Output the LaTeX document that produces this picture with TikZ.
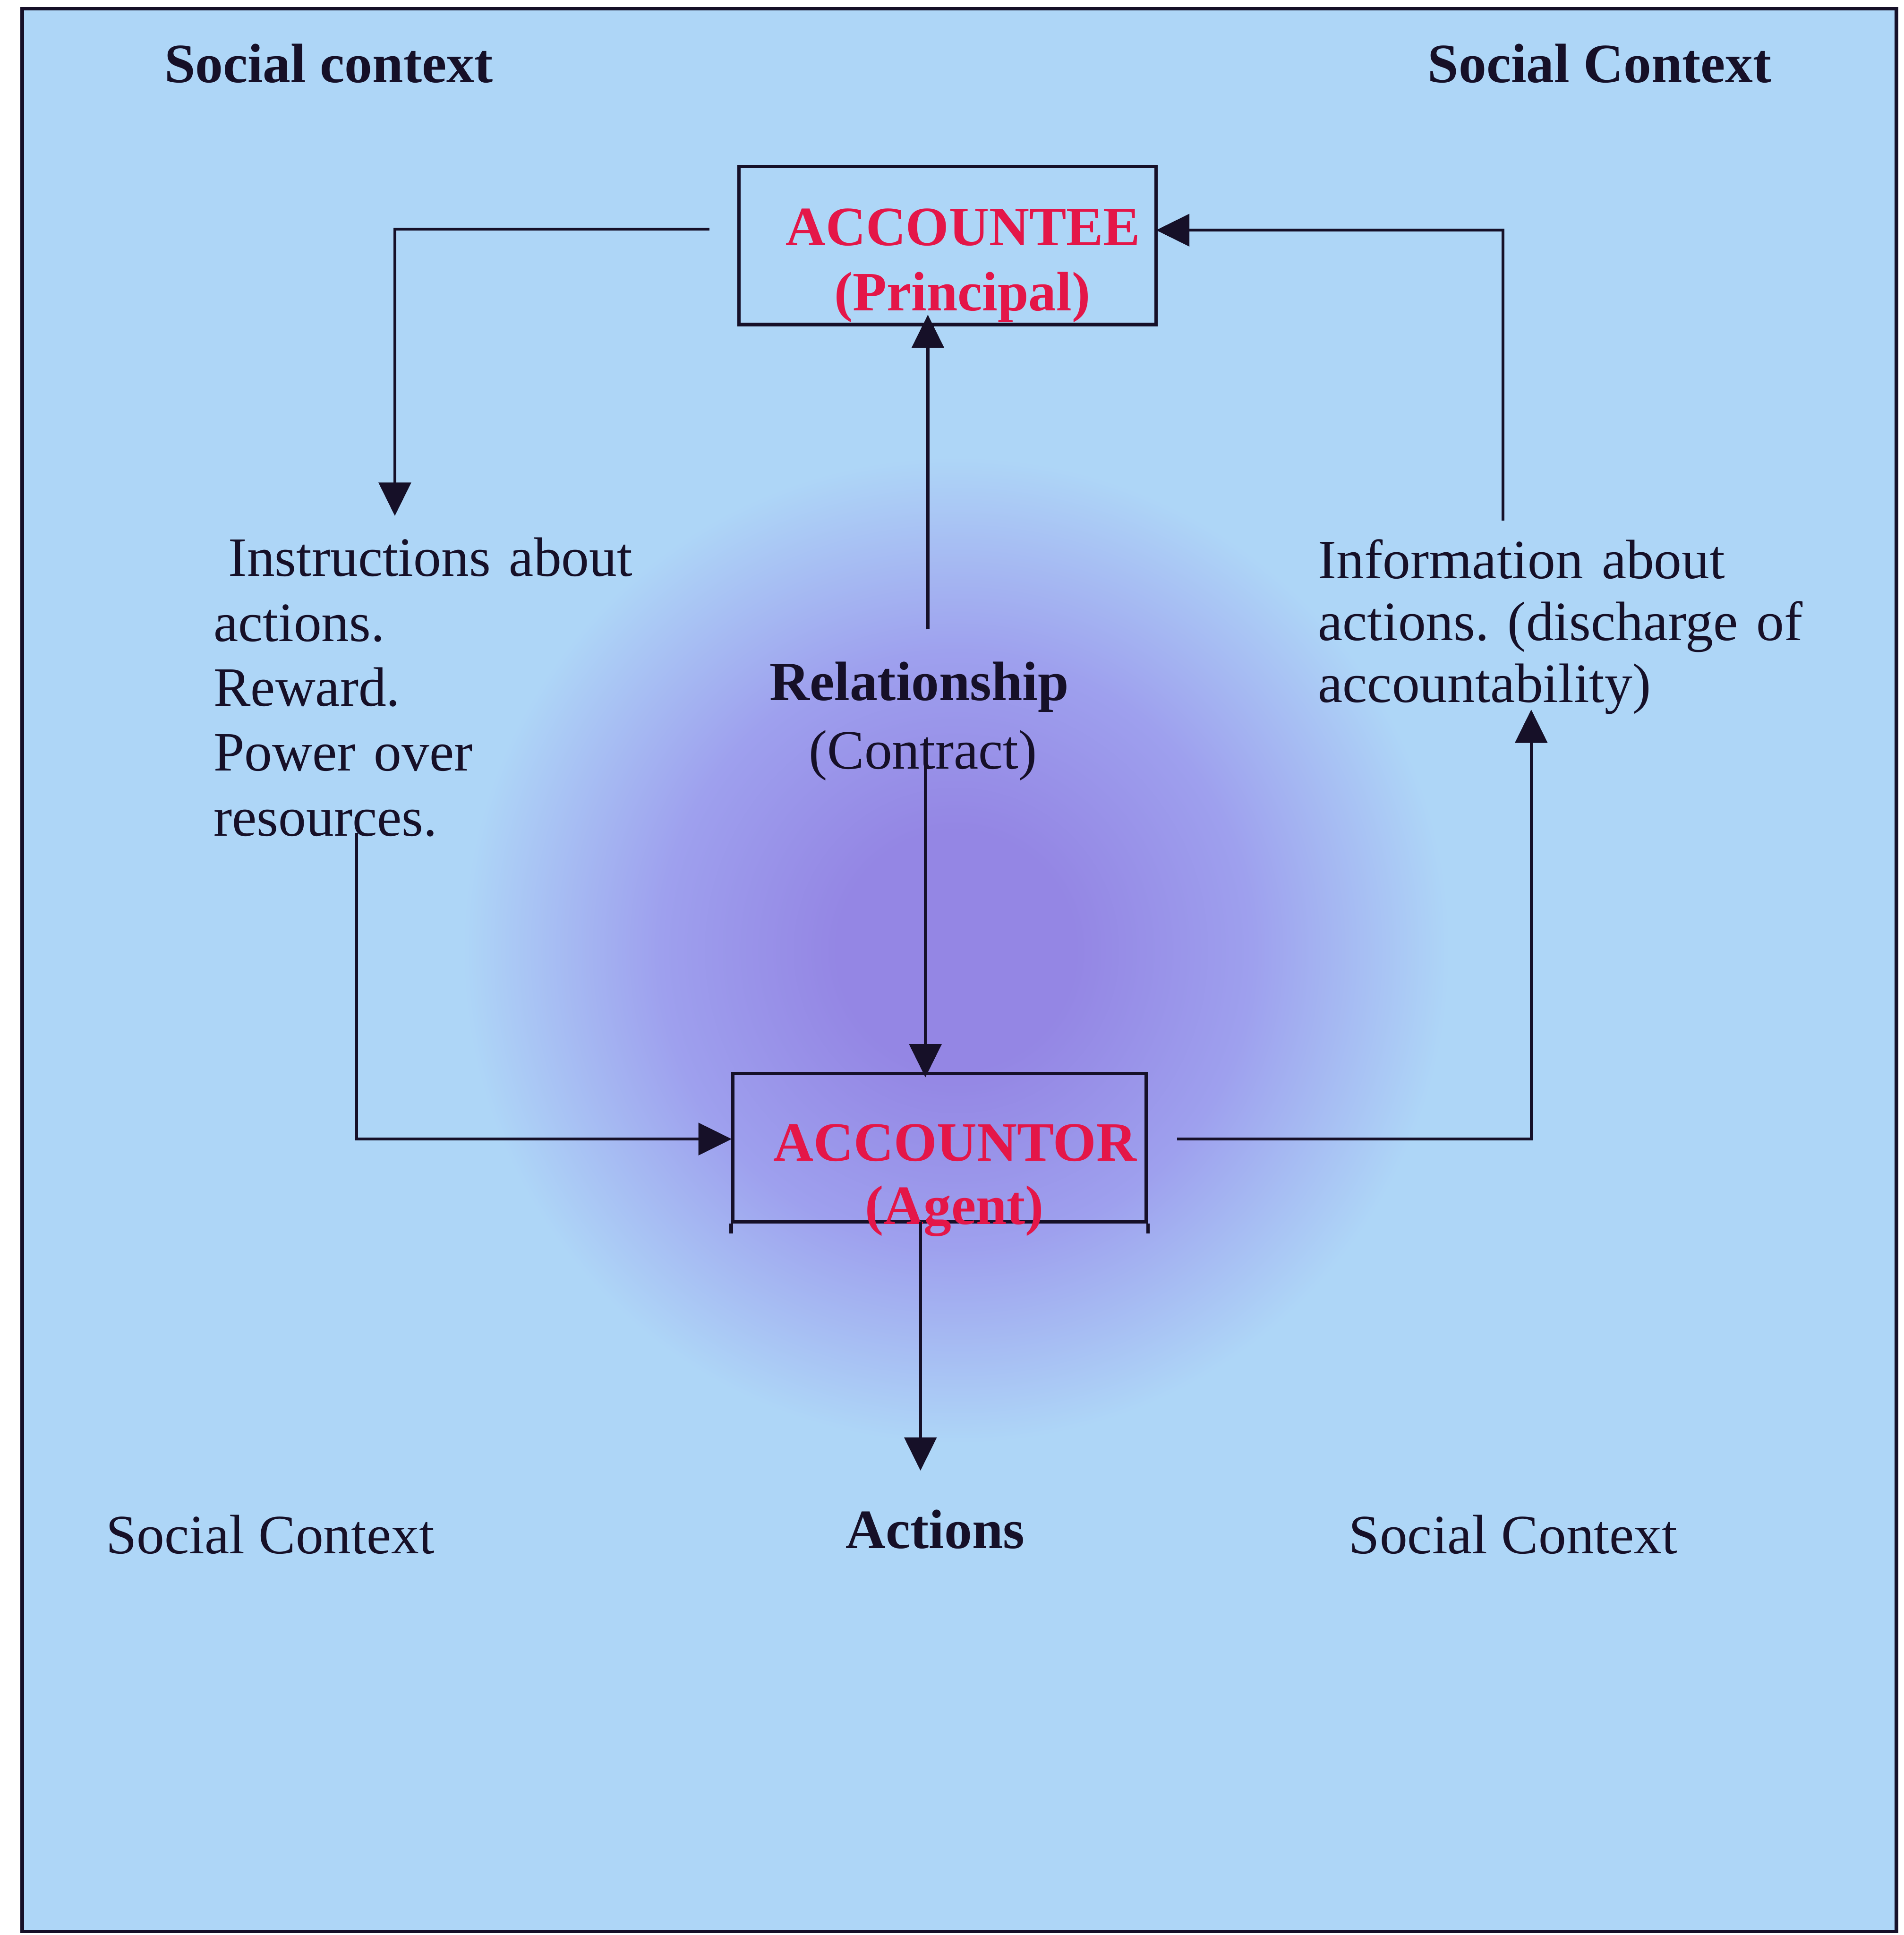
\documentclass[tikz,border=0pt]{standalone}
\usepackage{fontspec}
\setmainfont{Liberation Serif}
\usetikzlibrary{arrows.meta}

\definecolor{bluebg}{RGB}{174,214,247}
\definecolor{blobcore}{RGB}{148,134,228}
\definecolor{blobmid}{RGB}{158,160,238}
\definecolor{ink}{RGB}{22,16,40}
\definecolor{rolered}{RGB}{228,22,72}

% soft violet haze in the middle of the panel (fades out at the path's edge)
\pgfdeclareradialshading{haze}{\pgfpoint{0bp}{0bp}}{%
  color(0bp)=(blobcore); color(6bp)=(blobcore);
  color(15bp)=(blobmid); color(25bp)=(bluebg); color(50bp)=(bluebg)}

\begin{document}
\begin{tikzpicture}[x=0.1mm, y=-0.1mm, line width=0.7pt, ink,
  rolebox/.style={draw=ink, line width=0.8pt, inner sep=0pt, fill=none},
  plain/.style={font=\fontsize{12.8}{15}\selectfont, text=ink, inner sep=0pt},
  heading/.style={font=\fontsize{12.8}{15}\selectfont\bfseries, text=ink, inner sep=0pt},
  roletext/.style={font=\fontsize{12.8}{15}\selectfont\bfseries, text=rolered, inner sep=0pt},
  arr/.style={draw=ink, line width=0.7pt, -{Triangle[length=2.7mm,width=2.6mm]}}]

  % page and panel
  \fill[white] (0,0) rectangle (1543,1568);
  \useasboundingbox (0,0) rectangle (1543,1568);
  \fill[bluebg] (18,7) rectangle (1537,1565);
  \begin{scope}
    \clip (18,7) rectangle (1537,1565);
    \shade[shading=haze] (775,770) circle (40mm);
  \end{scope}
  \draw[line width=0.8pt] (18,7) rectangle (1537,1565);

  % the two parties
  \node[rolebox, minimum width=33.8mm, minimum height=12.8mm] (teebox) at (768,199) {};
  \node[rolebox, minimum width=33.5mm, minimum height=12.0mm] (torbox) at (761.5,930) {};
  \draw[line width=0.8pt] (torbox.south west) -- ++(0,8);
  \draw[line width=0.8pt] (torbox.south east) -- ++(0,8);

  \node[roletext, anchor=base] (teename) at (780.5,198.7) {ACCOUNTEE};
  \node[roletext, anchor=base] (teerole) at (780,251.7) {(Principal)};
  \node[roletext, anchor=base] (torname) at (774,940.6) {ACCOUNTOR};
  \node[roletext, anchor=base] (torrole) at (773.6,992) {(Agent)};

  % labels
  \node[heading, anchor=base west] (ctxTL) at (132,66.8) {Social context};
  \node[heading, anchor=base west] (ctxTR) at (1156,66.8) {Social Context};
  \node[plain, anchor=base west] (ctxBL) at (84.7,1259) {Social Context};
  \node[plain, anchor=base west] (ctxBR) at (1092,1259) {Social Context};
  \node[heading, anchor=base] (actions) at (758,1254.6) {Actions};
  \node[heading, anchor=base] (rel) at (745,567.5) {Relationship};
  \node[plain, anchor=base] (contract) at (748,623) {(Contract)};

  \node[plain, anchor=base west, text width=42mm, align=left,
        font=\fontsize{12.8}{14.96}\selectfont\frenchspacing] (instr) at (172,467)
    {\hspace*{1.2mm}Instructions about\\actions.\\Reward.\\Power over\\resources.};
  \node[plain, anchor=base west, text width=46mm, align=left,
        font=\fontsize{12.8}{14.3}\selectfont\frenchspacing] (info) at (1067,468.7)
    {Information about\\actions. (discharge of\\accountability)};

  % connector ends
  \coordinate (instrFrom) at (575,185.6);
  \coordinate (instrTo) at (320,418);
  \coordinate (relUpFrom) at (752,510);
  \coordinate (relUpTo) at (752,255);
  \coordinate (relDownFrom) at (750,599);
  \coordinate (relDownTo) at (750,873);
  \coordinate (resFrom) at (289,675);
  \coordinate (resTo) at (593,923);
  \coordinate (repFrom) at (954,923);
  \coordinate (repTo) at (1241,575);
  \coordinate (infoFrom) at (1218,422);
  \coordinate (infoTo) at (937,186.5);
  \coordinate (actFrom) at (746,990);
  \coordinate (actTo) at (746,1191.7);

  % connectors
  \draw[arr] (instrFrom) -| (instrTo);
  \draw[arr] (relUpFrom) -- (relUpTo);
  \draw[arr] (relDownFrom) -- (relDownTo);
  \draw[arr] (resFrom) |- (resTo);
  \draw[arr] (repFrom) -| (repTo);
  \draw[arr] (infoFrom) |- (infoTo);
  \draw[arr] (actFrom) -- (actTo);
\end{tikzpicture}
\end{document}
